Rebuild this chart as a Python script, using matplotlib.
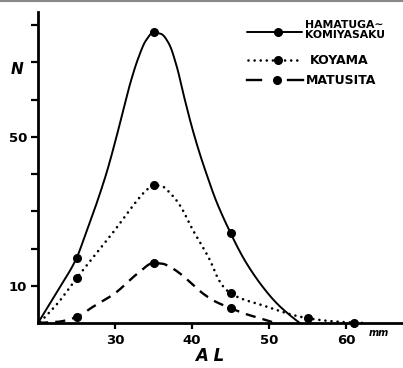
import numpy as np
import matplotlib
matplotlib.use("Agg")
import matplotlib.pyplot as plt
from matplotlib.lines import Line2D

# ---- data ----
series_names = ["HAMATUGA\u223c\nKOMIYASAKU", "KOYAMA", "MATUSITA"]

# observed points (markers)
hama_x = [25, 35, 45]
hama_n = [17.4, 78, 24.2]
koy_x = [25, 35, 45, 55, 61]
koy_n = [12, 37, 8, 1.3, 0.1]
mat_x = [25, 35, 45]
mat_n = [1.6, 16.1, 4]

# hand-drawn curve traces
hama_cx = [20, 22.5, 25, 26, 27, 28, 29, 30, 31, 32, 33, 34, 35, 36, 37, 38, 39, 40, 41, 42, 43, 44, 45, 46, 47, 49, 51, 53, 54]
hama_cn = [0, 8.5, 17.4, 22.8, 28.5, 34.5, 41, 48.5, 56.5, 64.5, 71, 75.8, 78, 77.6, 75, 69, 60.5, 52.5, 45.5, 39.3, 33.5, 28.6, 24.2, 20, 16.3, 10.2, 5.3, 1.6, 0]
koy_cx = [20.3, 22.6, 25, 27.5, 30, 32.6, 34, 35, 36, 37.2, 38.4, 40.1, 42.3, 43.5, 44.3, 45, 46, 47, 48.8, 50.5, 52.3, 55, 58, 61, 62.5]
koy_cn = [0.3, 5.4, 12, 18.5, 25, 32.2, 35.5, 37, 36.8, 34.8, 31.7, 25, 17, 11.5, 9.2, 8, 6.9, 6.1, 5.0, 3.8, 2.6, 1.3, 0.5, 0.1, 0]
mat_cx = [20, 22.5, 25, 27.1, 30, 33, 35, 36.2, 37.2, 38.5, 40, 41.5, 43, 45, 47, 48.8, 50.8]
mat_cn = [0, 0.3, 1.6, 4.3, 8, 13.4, 16.1, 15.9, 15.0, 13.2, 10.5, 7.8, 5.8, 4, 2.4, 1.3, 0]

x_ticks = [30, 40, 50, 60]
y_ticks = [10, 20, 30, 40, 50, 60, 70, 80]
y_labels = ["10", "", "", "", "50", "", "", ""]


def pchip(x, y, n=600):
    x = np.asarray(x, float)
    y = np.asarray(y, float)
    h = np.diff(x)
    d = np.diff(y) / h
    m = np.zeros_like(y)
    for k in range(1, len(x) - 1):
        if d[k - 1] * d[k] > 0:
            w1 = 2 * h[k] + h[k - 1]
            w2 = h[k] + 2 * h[k - 1]
            m[k] = (w1 + w2) / (w1 / d[k - 1] + w2 / d[k])
    m[0] = d[0]
    m[-1] = d[-1]
    xs = np.linspace(x[0], x[-1], n)
    idx = np.clip(np.searchsorted(x, xs, side="right") - 1, 0, len(h) - 1)
    t = (xs - x[idx]) / h[idx]
    h00 = 2 * t ** 3 - 3 * t ** 2 + 1
    h10 = t ** 3 - 2 * t ** 2 + t
    h01 = -2 * t ** 3 + 3 * t ** 2
    h11 = t ** 3 - t ** 2
    ys = h00 * y[idx] + h10 * h[idx] * m[idx] + h01 * y[idx + 1] + h11 * h[idx] * m[idx + 1]
    return xs, ys


W, H = 403, 368
fig = plt.figure(figsize=(W / 100, H / 100), dpi=100)
ax = fig.add_axes([38 / W, 1 - 323 / H, 1 - 38 / W, (323 - 12) / H])
ax.set_xlim(20, 67.4)
ax.set_ylim(0, 83.5)

solid_style = dict(color="black", lw=1.4, solid_capstyle="round")
dot_style = dict(color="black", lw=1.9, linestyle=(0, (0.01, 2.3)), dash_capstyle="round")
dash_style = dict(color="black", lw=1.7, linestyle=(0, (4.3, 3.0)), dash_capstyle="butt")
mk = dict(marker="o", color="black", markersize=5.5, linestyle="none")

cx, cy = pchip(hama_cx, hama_cn)
ax.plot(cx, cy, **solid_style, clip_on=False)
cx, cy = pchip(koy_cx, koy_cn)
ax.plot(cx, cy, **dot_style, clip_on=False)
cx, cy = pchip(mat_cx, mat_cn)
ax.plot(cx, cy, **dash_style, clip_on=False)

ax.plot(hama_x, hama_n, **mk, clip_on=False)
ax.plot(koy_x, koy_n, **mk, clip_on=False)
ax.plot(mat_x, mat_n, **mk, clip_on=False)

for s in ["top", "right"]:
    ax.spines[s].set_visible(False)
for s in ["left", "bottom"]:
    ax.spines[s].set_linewidth(2.0)

ax.set_xticks(x_ticks)
ax.set_xticklabels([str(v) for v in x_ticks], fontsize=9.5, fontweight="bold")
ax.set_yticks(y_ticks)
ax.set_yticklabels(y_labels, fontsize=9.5, fontweight="bold")
ax.tick_params(axis="x", direction="out", length=4, width=1.6, pad=4)
ax.tick_params(axis="y", direction="out", length=5, width=1.6, pad=3)

# axis labels
fig.text(17 / W, 1 - 70 / H, "N", fontsize=11, style="italic", fontweight="bold",
         ha="center", va="center")
fig.text(210 / W, 1 - 356 / H, "A L", fontsize=12, style="italic", fontweight="bold",
         ha="center", va="center")
fig.text(379 / W, 1 - 333 / H, "mm", fontsize=7, style="italic", fontweight="bold",
         ha="center", va="center")


# legend (drawn by hand as in the original)
def fx(px):
    return px / W


def fy(py):
    return 1 - py / H


fig.add_artist(Line2D([fx(247), fx(302)], [fy(32), fy(32)], **solid_style))
fig.add_artist(Line2D([fx(278)], [fy(32)], **mk))
fig.add_artist(Line2D([fx(248), fx(302)], [fy(60), fy(60)], **dot_style))
fig.add_artist(Line2D([fx(278)], [fy(60)], **mk))
fig.add_artist(Line2D([fx(247), fx(261)], [fy(80), fy(80)], color="black", lw=1.7))
fig.add_artist(Line2D([fx(288), fx(303)], [fy(80), fy(80)], color="black", lw=1.7))
fig.add_artist(Line2D([fx(277)], [fy(80)], **mk))

fig.text(fx(305), fy(30), series_names[0], fontsize=7.8, fontweight="bold",
         ha="left", va="center", linespacing=0.9)
fig.text(fx(310), fy(60), series_names[1], fontsize=9, fontweight="bold",
         ha="left", va="center")
fig.text(fx(306), fy(80), series_names[2], fontsize=9, fontweight="bold",
         ha="left", va="center")

# scan edge line at the top
fig.add_artist(Line2D([0, 1], [fy(1), fy(1)], color="#888888", lw=1.5))

fig.savefig("out.png", dpi=100)
